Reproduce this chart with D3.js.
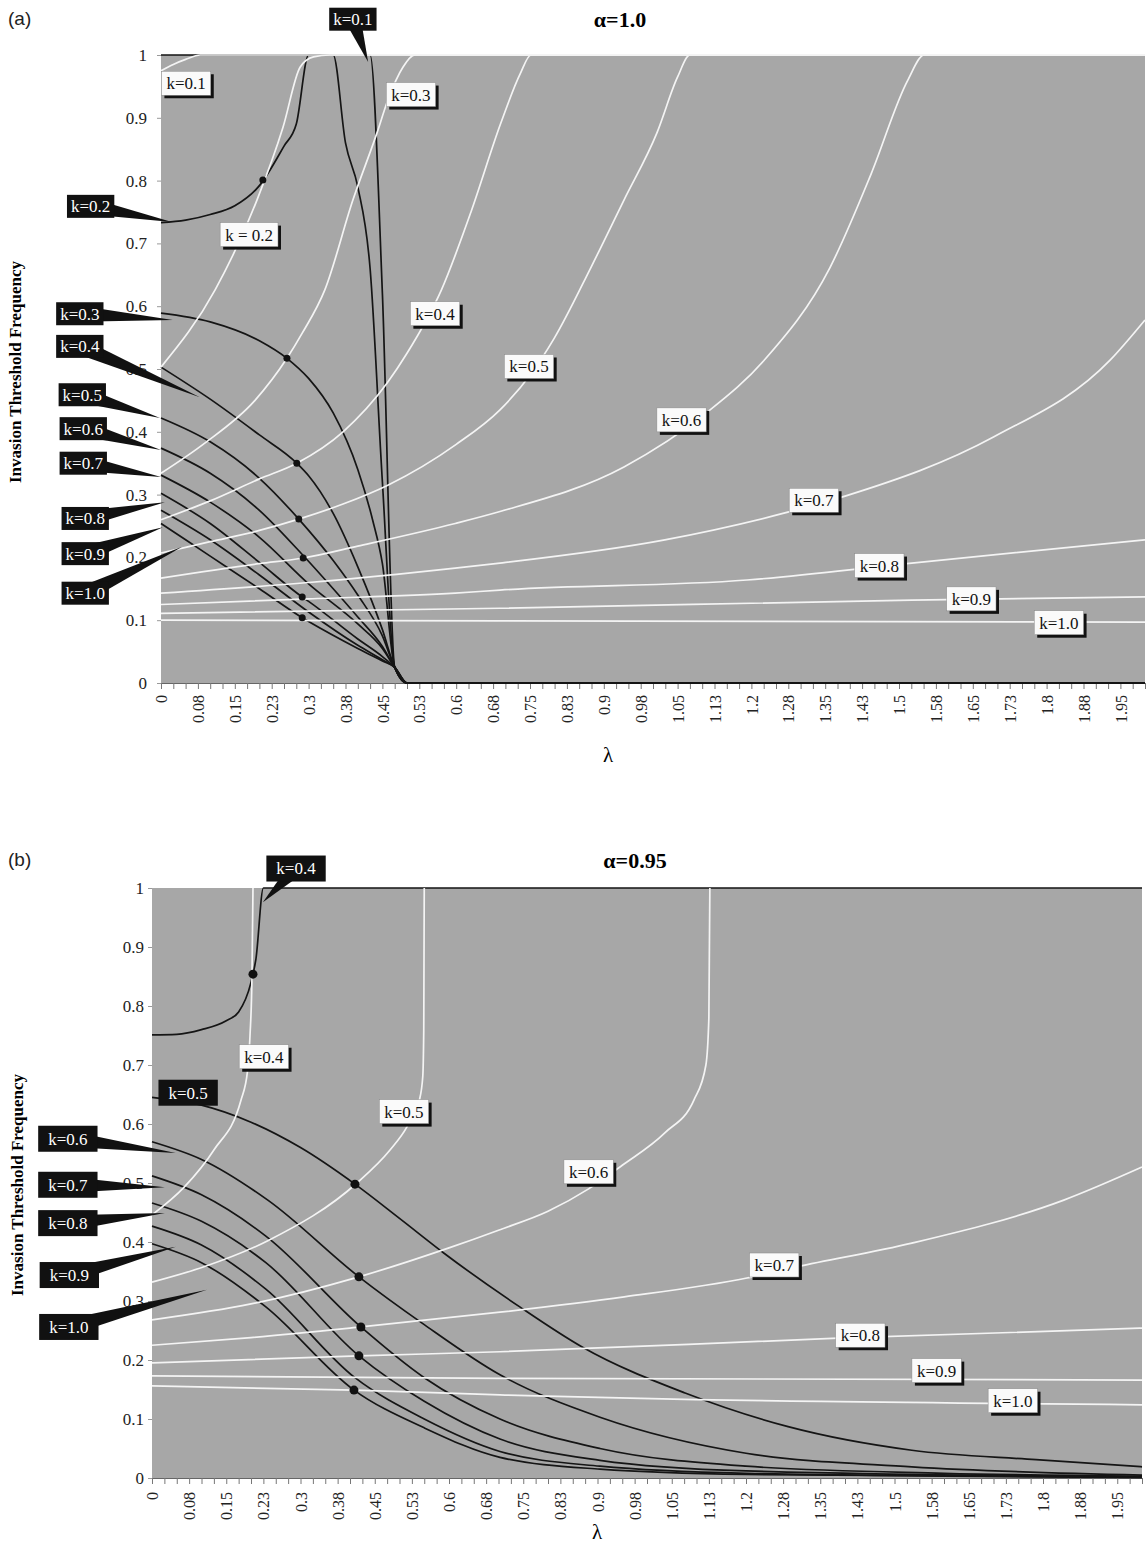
<!DOCTYPE html>
<html>
<head>
<meta charset="utf-8">
<script src="https://cdn.jsdelivr.net/npm/d3@7"></script>
<style>
  body { margin: 0; background: #fff; }
  text { font-family: "Liberation Serif", "Times New Roman", serif; }
</style>
</head>
<body>
<div id="chart"></div>
<script>
// ---- axis labels ----
const lambdaTickLabels = ["0","0.08","0.15","0.23","0.3","0.38","0.45","0.53","0.6","0.68","0.75",
  "0.83","0.9","0.98","1.05","1.13","1.2","1.28","1.35","1.43","1.5","1.58","1.65","1.73","1.8","1.88","1.95"];
const yTickValues = [0, 0.1, 0.2, 0.3, 0.4, 0.5, 0.6, 0.7, 0.8, 0.9, 1];

// ---- panel (a), alpha = 1.0 : [lambda, frequency] ----
const aBlack01 = [[0,1],[0.425,1],[0.45,0.62],[0.475,0.025],[0.5,0],[2,0]];
const aBlack02 = [[0,0.733],[0.05,0.737],[0.1,0.746],[0.15,0.76],[0.2,0.792],[0.25,0.855],[0.275,0.89],
  [0.3,1],[0.35,1],[0.375,0.86],[0.4,0.79],[0.425,0.66],[0.45,0.32],[0.475,0.025],[0.5,0],[2,0]];
const aBlack03 = [[0,0.589],[0.1,0.575],[0.2,0.545],[0.256,0.517],[0.3,0.485],[0.35,0.43],[0.4,0.34],[0.43,0.26],[0.45,0.19],[0.475,0.025],[0.5,0],[2,0]];
const aBlack04 = [[0,0.503],[0.1,0.452],[0.2,0.395],[0.276,0.35],[0.3,0.33],[0.35,0.27],[0.4,0.185],[0.45,0.085],[0.475,0.025],[0.5,0],[2,0]];
const aBlack05 = [[0,0.422],[0.1,0.384],[0.2,0.326],[0.28,0.261],[0.35,0.195],[0.4,0.14],[0.45,0.075],[0.475,0.025],[0.5,0],[2,0]];
const aBlack06 = [[0,0.374],[0.1,0.334],[0.2,0.275],[0.289,0.203],[0.35,0.15],[0.4,0.105],[0.45,0.058],[0.475,0.025],[0.5,0],[2,0]];
const aBlack07 = [[0,0.331],[0.1,0.288],[0.2,0.232],[0.3,0.158],[0.4,0.094],[0.45,0.055],[0.475,0.025],[0.5,0],[2,0]];
const aBlack08 = [[0,0.302],[0.1,0.254],[0.2,0.192],[0.287,0.137],[0.3,0.13],[0.4,0.07],[0.45,0.042],[0.475,0.025],[0.5,0],[2,0]];
const aBlack09 = [[0,0.275],[0.1,0.228],[0.2,0.172],[0.3,0.113],[0.4,0.06],[0.45,0.037],[0.475,0.025],[0.5,0],[2,0]];
const aBlack10 = [[0,0.254],[0.1,0.202],[0.2,0.15],[0.287,0.104],[0.3,0.098],[0.4,0.055],[0.45,0.035],[0.475,0.025],[0.5,0],[2,0]];

const aWhite01 = [[0,0.975],[0.025,0.985],[0.05,0.993],[0.08,1],[2,1]];
const aWhite02 = [[0,0.503],[0.11,0.626],[0.195,0.769],[0.248,0.885],[0.283,0.981],[0.31,0.997],[0.343,1],[2,1]];
const aWhite03 = [[0,0.334],[0.089,0.382],[0.191,0.45],[0.256,0.517],[0.287,0.557],[0.333,0.626],[0.39,0.769],
  [0.439,0.876],[0.461,0.928],[0.492,0.981],[0.516,1],[2,1]];
const aWhite04 = [[0,0.26],[0.1,0.29],[0.2,0.325],[0.276,0.35],[0.37,0.4],[0.46,0.478],[0.5,0.525],[0.57,0.626],
  [0.63,0.75],[0.69,0.89],[0.73,0.97],[0.752,1],[2,1]];
const aWhite05 = [[0,0.207],[0.1,0.225],[0.2,0.243],[0.28,0.261],[0.37,0.285],[0.461,0.315],[0.6,0.38],[0.689,0.435],
  [0.75,0.49],[0.8,0.55],[0.874,0.662],[0.941,0.769],[1.008,0.876],[1.05,0.965],[1.075,1],[2,1]];
const aWhite06 = [[0,0.167],[0.2,0.19],[0.289,0.199],[0.4,0.218],[0.598,0.254],[0.689,0.273],[0.941,0.344],[1.108,0.43],
  [1.226,0.514],[1.36,0.662],[1.443,0.81],[1.518,0.96],[1.551,1],[2,1]];
const aWhite07 = [[0,0.143],[0.3,0.16],[0.598,0.183],[0.689,0.191],[1.024,0.228],[1.274,0.272],[1.392,0.298],[1.693,0.392],[1.929,0.514],[2,0.578]];
const aWhite08 = [[0,0.125],[0.3,0.134],[0.598,0.143],[0.689,0.148],[1.191,0.164],[1.526,0.191],[2,0.228]];
const aWhite09 = [[0,0.111],[0.689,0.119],[1.526,0.132],[2,0.137]];
const aWhite10 = [[0,0.1],[0.689,0.099],[2,0.097]];

const aDots = [[0.207,0.801],[0.256,0.517],[0.276,0.35],[0.28,0.261],[0.289,0.199],[0.287,0.137],[0.287,0.104]];

// ---- panel (b), alpha = 0.95 ----
const bBlack04 = [[0,0.751],[0.05,0.752],[0.1,0.76],[0.15,0.775],[0.175,0.79],[0.2,0.84],[0.21,0.88],[0.225,1],[2,1]];
const bBlack05 = [[0,0.645],[0.1,0.632],[0.2,0.603],[0.3,0.56],[0.41,0.498],[0.5,0.44],[0.59,0.381],[0.743,0.29],[0.869,0.222],
  [1.077,0.144],[1.285,0.087],[1.535,0.047],[1.786,0.031],[2,0.019]];
const bBlack06 = [[0,0.57],[0.1,0.54],[0.234,0.471],[0.418,0.341],[0.55,0.26],[0.703,0.175],[0.905,0.103],[1.2,0.042],[1.535,0.019],[2,0.005]];
const bBlack07 = [[0,0.512],[0.1,0.48],[0.23,0.41],[0.422,0.256],[0.55,0.17],[0.703,0.1],[0.905,0.05],[1.2,0.02],[1.6,0.008],[2,0.003]];
const bBlack08 = [[0,0.466],[0.1,0.435],[0.23,0.365],[0.418,0.207],[0.55,0.13],[0.703,0.066],[0.905,0.03],[1.2,0.012],[2,0.002]];
const bBlack09 = [[0,0.427],[0.1,0.395],[0.23,0.32],[0.41,0.17],[0.55,0.1],[0.703,0.045],[0.905,0.02],[1.2,0.008],[2,0.001]];
const bBlack10 = [[0,0.397],[0.1,0.365],[0.23,0.29],[0.408,0.149],[0.55,0.085],[0.703,0.035],[0.905,0.015],[1.2,0.006],[2,0.001]];

const bWhite04 = [[0,0.446],[0.065,0.493],[0.125,0.556],[0.18,0.641],[0.193,0.69],[0.198,0.75],[0.202,0.85],[0.204,1]];
const bWhite05 = [[0,0.332],[0.105,0.358],[0.236,0.403],[0.414,0.5],[0.48,0.555],[0.515,0.595],[0.54,0.64],[0.547,0.68],[0.549,0.76],[0.55,1]];
const bWhite06 = [[0,0.268],[0.2,0.295],[0.418,0.341],[0.6,0.39],[0.7,0.42],[0.8,0.452],[0.882,0.49],[0.95,0.53],
  [1.036,0.585],[1.095,0.641],[1.119,0.7],[1.125,0.78],[1.127,1]];
const bWhite07 = [[0,0.225],[0.2,0.238],[0.422,0.256],[0.703,0.281],[0.954,0.307],[1.202,0.339],[1.303,0.358],[1.535,0.398],[1.842,0.471],[2,0.527]];
const bWhite08 = [[0,0.195],[0.418,0.207],[0.703,0.214],[1.386,0.237],[2,0.254]];
const bWhite09 = [[0,0.173],[0.7,0.169],[2,0.166]];
const bWhite10 = [[0,0.156],[0.408,0.149],[0.703,0.141],[2,0.124]];

const bDots = [[0.204,0.854],[0.41,0.498],[0.418,0.341],[0.422,0.256],[0.418,0.207],[0.408,0.149]];

// ---- annotations: [text, lambda, freq] box centre, plus pointer tip for black tags ----
const aWhiteTags = [["k=0.1",0.051,0.955],["k = 0.2",0.179,0.714],["k=0.3",0.508,0.937],["k=0.4",0.557,0.588],
  ["k=0.5",0.748,0.504],["k=0.6",1.058,0.419],["k=0.7",1.327,0.291],["k=0.8",1.46,0.187],["k=0.9",1.647,0.134],["k=1.0",1.825,0.096]];
const aBlackTags = [["k=0.1",0.39,1.057,0.421,0.989],["k=0.2",-0.143,0.759,0.022,0.734],["k=0.3",-0.165,0.588,0.024,0.578],
  ["k=0.4",-0.165,0.536,0.079,0.455],["k=0.5",-0.16,0.459,-0.002,0.422],["k=0.6",-0.158,0.405,0,0.371],
  ["k=0.7",-0.158,0.35,0,0.328],["k=0.8",-0.154,0.262,0.008,0.288],["k=0.9",-0.154,0.206,0.004,0.248],["k=1.0",-0.154,0.143,0.043,0.217]];
const bWhiteTags = [["k=0.4",0.226,0.714],["k=0.5",0.509,0.621],["k=0.6",0.882,0.519],["k=0.7",1.257,0.361],
  ["k=0.8",1.431,0.242],["k=0.9",1.585,0.182],["k=1.0",1.739,0.131]];
const bBlackTags = [["k=0.4",0.291,1.033,0.224,0.976],["k=0.5",0.073,0.653,null,null],["k=0.6",-0.17,0.575,0.048,0.551],
  ["k=0.7",-0.17,0.497,0.026,0.493],["k=0.8",-0.17,0.432,0.026,0.449],["k=0.9",-0.167,0.344,0.048,0.392],["k=1.0",-0.168,0.256,0.111,0.319]];

const svg = d3.select("#chart").append("svg")
  .attr("width", 1146)
  .attr("height", 1548);

function drawPanel(p) {
  const x = d3.scaleLinear().domain([0, 2]).range([p.left, p.right]);
  const y = d3.scaleLinear().domain([0, 1]).range([p.bottom, p.top]);

  // grey plot area
  svg.append("rect")
     .attr("x", p.left).attr("y", p.top)
     .attr("width", p.right - p.left).attr("height", p.bottom - p.top)
     .attr("fill", "#a7a7a7");

  svg.append("clipPath").attr("id", p.id)
     .append("rect")
     .attr("x", p.left - 1).attr("y", p.top - 2)
     .attr("width", p.right - p.left + 2).attr("height", p.bottom - p.top + 4);

  // category ticks every 0.025, labels every third one
  const cats = d3.range(81).map(i => i * 0.025);
  const xAxis = svg.append("g")
     .attr("transform", `translate(0,${p.bottom})`)
     .call(d3.axisBottom(x).tickValues(cats).tickSize(6)
       .tickFormat((d, i) => (i % 3 === 0 && i / 3 < lambdaTickLabels.length) ? lambdaTickLabels[i / 3] : ""));
  xAxis.select(".domain").attr("stroke", "#666");
  xAxis.selectAll(".tick line").attr("stroke", "#777");
  xAxis.selectAll(".tick text")
     .attr("transform", "rotate(-90)")
     .attr("text-anchor", "end")
     .attr("x", -p.xLabelGap).attr("y", 0).attr("dy", "0.35em")
     .style("font-size", "16px").style("font-family", "Liberation Serif").attr("fill", "#222");

  const yAxis = svg.append("g")
     .attr("transform", `translate(${p.left},0)`)
     .call(d3.axisLeft(y).tickValues(yTickValues).tickSize(4).tickPadding(p.yPad)
       .tickFormat(d => d === 0 ? "0" : d === 1 ? "1" : d.toFixed(1)));
  yAxis.select(".domain").remove();
  yAxis.selectAll(".tick line").attr("stroke", "#999");
  yAxis.selectAll(".tick text")
     .style("font-size", "17px").style("font-family", "Liberation Serif").attr("fill", "#222");

  const line = d3.line()
     .x(d => x(d[0]))
     .y(d => y(d[1]))
     .curve(d3.curveMonotoneX);

  const plot = svg.append("g").attr("clip-path", `url(#${p.id})`);

  plot.selectAll(".black").data(p.black).join("path")
     .attr("d", line)
     .attr("fill", "none")
     .attr("stroke", "#151515")
     .attr("stroke-width", 1.7);

  plot.selectAll(".white").data(p.white).join("path")
     .attr("d", line)
     .attr("fill", "none")
     .attr("stroke", "#f4f4f4")
     .attr("stroke-width", 1.7);

  svg.append("g").selectAll("circle").data(p.dots).join("circle")
     .attr("cx", d => x(d[0])).attr("cy", d => y(d[1]))
     .attr("r", p.dotR).attr("fill", "#111");

  // white tags with drop shadow
  p.whiteTags.forEach(t => {
    const g = svg.append("g").attr("transform", `translate(${x(t[1])},${y(t[2])})`);
    const txt = g.append("text").attr("text-anchor", "middle").attr("dy", "0.35em")
       .style("font-size", "17px").attr("fill", "#111").text(t[0]);
    const w = txt.node().getComputedTextLength() + 10, h = 24;
    g.insert("rect", "text").attr("x", -w / 2 + 3).attr("y", -h / 2 + 3).attr("width", w).attr("height", h).attr("fill", "#111");
    g.insert("rect", "text").attr("x", -w / 2).attr("y", -h / 2).attr("width", w).attr("height", h)
       .attr("fill", "#fafafa").attr("stroke", "#888").attr("stroke-width", 0.5);
  });

  // black tags with callout wedge
  p.blackTags.forEach(t => {
    const cx = x(t[1]), cy = y(t[2]);
    if (t[3] !== null) {
      const tx = x(t[3]), ty = y(t[4]);
      const dx = tx - cx, dy = ty - cy, len = Math.hypot(dx, dy);
      const nx = -dy / len * 8, ny = dx / len * 8;
      svg.append("path")
         .attr("d", `M${cx + nx},${cy + ny}L${tx},${ty}L${cx - nx},${cy - ny}Z`)
         .attr("fill", "#111");
    }
    const g = svg.append("g").attr("transform", `translate(${cx},${cy})`);
    const txt = g.append("text").attr("text-anchor", "middle").attr("dy", "0.35em")
       .style("font-size", "17px").attr("fill", "#fff").text(t[0]);
    const w = txt.node().getComputedTextLength() + p.blackPad, h = p.blackH;
    g.insert("rect", "text").attr("x", -w / 2).attr("y", -h / 2).attr("width", w).attr("height", h).attr("fill", "#111");
  });

  // titles
  svg.append("text").attr("x", 8).attr("y", p.tagY)
     .style("font-family", "Liberation Sans, Arial, sans-serif").style("font-size", "19px")
     .attr("fill", "#222").text(p.tag);
  svg.append("text").attr("x", p.titleX).attr("y", p.tagY + 2).attr("text-anchor", "middle")
     .style("font-size", "22px").style("font-weight", "bold").text(p.title);
  svg.append("text")
     .attr("transform", `translate(${p.yTitleX},${p.yTitleY}) rotate(-90)`)
     .attr("text-anchor", "middle")
     .style("font-size", "17px").style("font-weight", "bold").text("Invasion Threshold Frequency");
  svg.append("text").attr("x", p.lamX).attr("y", p.lamY).attr("text-anchor", "middle")
     .style("font-size", "21px").text("λ");
}

drawPanel({
  id: "clipA", left: 161, right: 1145, top: 55, bottom: 683,
  black: [aBlack01, aBlack02, aBlack03, aBlack04, aBlack05, aBlack06, aBlack07, aBlack08, aBlack09, aBlack10],
  white: [aWhite01, aWhite02, aWhite03, aWhite04, aWhite05, aWhite06, aWhite07, aWhite08, aWhite09, aWhite10],
  dots: aDots, dotR: 3.5,
  whiteTags: aWhiteTags, blackTags: aBlackTags, blackPad: 8, blackH: 23,
  xLabelGap: 12, yPad: 10,
  tag: "(a)", tagY: 25, title: "α=1.0", titleX: 620,
  yTitleX: 21, yTitleY: 372, lamX: 608, lamY: 762
});

drawPanel({
  id: "clipB", left: 152, right: 1142, top: 888, bottom: 1478,
  black: [bBlack04, bBlack05, bBlack06, bBlack07, bBlack08, bBlack09, bBlack10],
  white: [bWhite04, bWhite05, bWhite06, bWhite07, bWhite08, bWhite09, bWhite10],
  dots: bDots, dotR: 4.5,
  whiteTags: bWhiteTags, blackTags: bBlackTags, blackPad: 20, blackH: 26,
  xLabelGap: 14, yPad: 4,
  tag: "(b)", tagY: 866, title: "α=0.95", titleX: 635,
  yTitleX: 23, yTitleY: 1185, lamX: 597, lamY: 1539
});
</script>
</body>
</html>
